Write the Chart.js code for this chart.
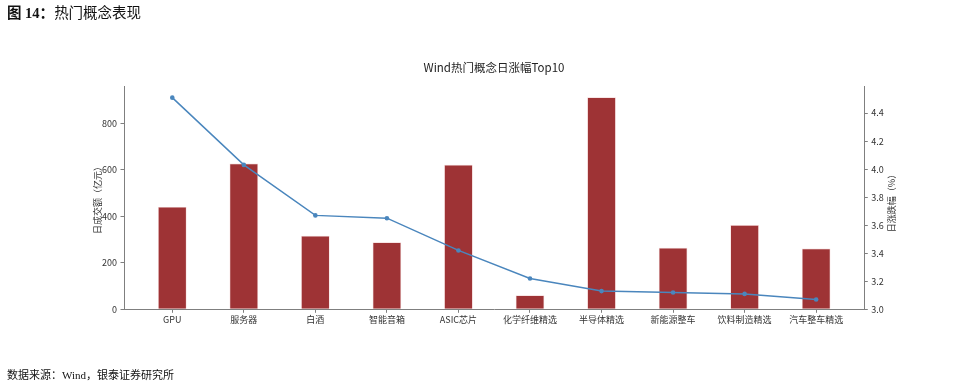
<!DOCTYPE html>
<html>
<head>
<meta charset="utf-8">
<script src="https://cdn.jsdelivr.net/npm/chart.js@4.4.1/dist/chart.umd.min.js"></script>
<style>
  html, body { margin: 0; padding: 0; background: #fff; }
  #wrap { position: relative; width: 965px; height: 386px; overflow: hidden; }
  #c { position: absolute; left: 0; top: 0; }
  .txt { position: absolute; white-space: nowrap; color: #111; }
  #hdr { left: 7px; top: 3px; font-family: "Liberation Serif", "Noto Sans CJK SC", serif; font-size: 14.5px; line-height: 20px; }
  #hdr b { font-weight: bold; }
  #ftr { left: 7px; top: 367px; font-family: "Liberation Serif", "Noto Sans CJK SC", serif; font-size: 11px; line-height: 16px; }
  #ttl { left: 394px; width: 200px; text-align: center; top: 59px; font-family: "Noto Sans CJK SC", sans-serif; font-size: 11.5px; line-height: 16px; color: #222; }
</style>
</head>
<body>
<div id="wrap">
  <canvas id="c" width="965" height="386"></canvas>
  <div class="txt" id="hdr"><b>图 14：</b>热门概念表现</div>
  <div class="txt" id="ttl">Wind热门概念日涨幅Top10</div>
  <div class="txt" id="ftr">数据来源：Wind，银泰证券研究所</div>
</div>
<script>
const categories = ['GPU', '服务器', '白酒', '智能音箱', 'ASIC芯片', '化学纤维精选', '半导体精选', '新能源整车', '饮料制造精选', '汽车整车精选'];
const turnover = [441, 628, 317, 289, 622, 60, 913, 265, 363, 262];   // 日成交额（亿元）
const changePct = [4.51, 4.03, 3.67, 3.65, 3.42, 3.22, 3.13, 3.12, 3.11, 3.07]; // 日涨跌幅（%）
const leftTicks = [0, 200, 400, 600, 800];
const rightTicks = [3.0, 3.2, 3.4, 3.6, 3.8, 4.0, 4.2, 4.4];

const AXIS = '#7f7f7f';
const TXT = '#333333';
const FONT = '"Noto Sans CJK SC", sans-serif';

const rightTitlePlugin = {
  id: 'rightTitle',
  afterDraw(chart) {
    const ctx = chart.ctx;
    const a = chart.chartArea;
    ctx.save();
    ctx.translate(891.7, (a.top + a.bottom) / 2 + 3);
    ctx.rotate(-Math.PI / 2);
    ctx.font = '9px ' + FONT;
    ctx.fillStyle = TXT;
    ctx.textAlign = 'center';
    ctx.textBaseline = 'middle';
    ctx.fillText('日涨跌幅（%）', 0, 0);
    ctx.restore();
  }
};

new Chart(document.getElementById('c'), {
  data: {
    datasets: [
      {
        type: 'line',
        label: '日涨跌幅',
        data: changePct.map((v, i) => ({ x: i, y: v })),
        yAxisID: 'y1',
        borderColor: '#4a86bd',
        backgroundColor: '#4a86bd',
        borderWidth: 1.5,
        pointRadius: 2.3,
        pointHoverRadius: 2.3,
        pointBorderWidth: 0,
        tension: 0,
        order: 0
      },
      {
        type: 'bar',
        label: '日成交额',
        data: turnover.map((v, i) => ({ x: i, y: v })),
        yAxisID: 'y',
        backgroundColor: '#9e3335',
        borderColor: 'rgba(240,200,200,0.8)',
        borderWidth: 0.7,
        borderSkipped: 'bottom',
        barPercentage: 0.4,
        categoryPercentage: 1.0,
        order: 1
      }
    ]
  },
  options: {
    responsive: false,
    animation: false,
    events: [],
    layout: { padding: { top: 86.7, left: 88.6, right: 0, bottom: 0 } },
    plugins: { legend: { display: false }, title: { display: false }, tooltip: { enabled: false } },
    scales: {
      x: {
        type: 'linear',
        offset: false,
        min: -0.675,
        max: 9.673,
        afterBuildTicks: (axis) => { axis.ticks = categories.map((c, i) => ({ value: i })); },
        afterFit: (axis) => { axis.height = 386 - 309.3; },
        ticks: {
          callback: (v) => categories[v],
          font: { family: FONT, size: 9 },
          color: TXT,
          padding: 1,
          maxRotation: 0,
          autoSkip: false
        },
        grid: { offset: false, drawOnChartArea: false, drawTicks: true, tickLength: 3.5, color: AXIS, tickColor: AXIS },
        border: { display: true, color: AXIS, width: 1 }
      },
      y: {
        position: 'left',
        min: 0,
        max: 958.6,
        afterBuildTicks: (axis) => { axis.ticks = leftTicks.map(v => ({ value: v })); },
        afterFit: (axis) => { axis.width = 124 - 88.6; },
        ticks: { font: { family: FONT, size: 9 }, color: TXT, padding: 3.5 },
        grid: { drawOnChartArea: false, drawTicks: true, tickLength: 3.5, color: AXIS, tickColor: AXIS },
        border: { display: true, color: AXIS, width: 1 },
        title: { display: true, text: '日成交额（亿元）', font: { family: FONT, size: 9 }, color: TXT, padding: { top: 4, bottom: 4 } }
      },
      y1: {
        position: 'right',
        min: 3.0,
        max: 4.588,
        afterBuildTicks: (axis) => { axis.ticks = rightTicks.map(v => ({ value: v })); },
        afterFit: (axis) => { axis.width = 965 - 864.3; },
        ticks: { font: { family: FONT, size: 9 }, color: TXT, padding: 3.5, callback: (v) => Number(v).toFixed(1) },
        grid: { drawOnChartArea: false, drawTicks: true, tickLength: 3.5, color: AXIS, tickColor: AXIS },
        border: { display: true, color: AXIS, width: 1 }
      }
    }
  },
  plugins: [rightTitlePlugin]
});
</script>
</body>
</html>
